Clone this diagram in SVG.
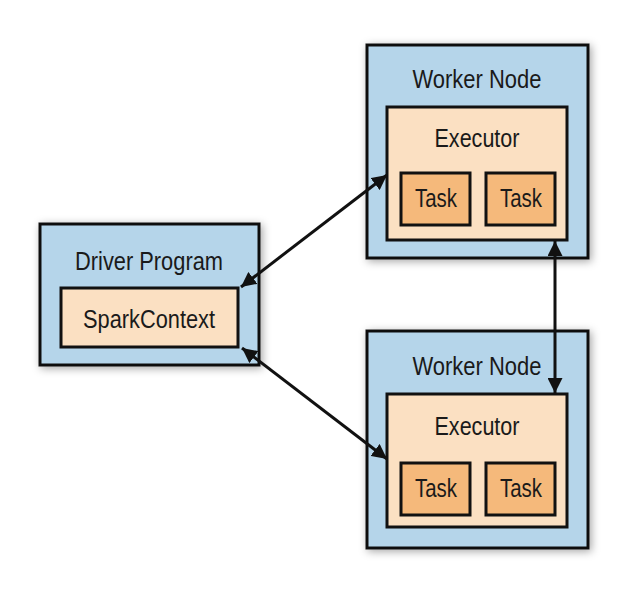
<svg xmlns="http://www.w3.org/2000/svg" width="638" height="600" viewBox="0 0 638 600">
  <style>
    .outer { fill: #b5d5ea; stroke: #111; stroke-width: 3; filter: url(#shadow); }
    .exec { fill: #fbe0c2; stroke: #111; stroke-width: 3; }
    .task { fill: #f5b97b; stroke: #111; stroke-width: 3; }
    .lbl { font-family: "Liberation Sans", Arial, sans-serif; font-size: 25px; fill: #1a1a1a; text-anchor: middle; }
    .conn { stroke: #111; stroke-width: 3; fill: none; marker-start: url(#head); marker-end: url(#head); }
  </style>
  <defs>
    <filter id="shadow" x="-20%" y="-20%" width="140%" height="140%">
      <feDropShadow dx="2" dy="2" stdDeviation="4" flood-color="#000" flood-opacity="0.35"/>
    </filter>
    <marker id="head" viewBox="0 0 10 10" refX="10" refY="5" markerWidth="5" markerHeight="5" orient="auto-start-reverse" markerUnits="strokeWidth">
      <path d="M0,0 L10,5 L0,10 z" fill="#111"/>
    </marker>
  </defs>
  <rect width="638" height="600" fill="#ffffff"/>

  <g id="driver">
    <rect class="outer" x="40" y="224" width="219" height="141"/>
    <text class="lbl" x="149" y="270" textLength="148" lengthAdjust="spacingAndGlyphs">Driver Program</text>
    <rect class="exec" x="61" y="288" width="177" height="59"/>
    <text class="lbl" x="149" y="328" textLength="132" lengthAdjust="spacingAndGlyphs">SparkContext</text>
  </g>

  <g id="worker1">
    <rect class="outer" x="367" y="45" width="221" height="213"/>
    <text class="lbl" x="477" y="88" textLength="129" lengthAdjust="spacingAndGlyphs">Worker Node</text>
    <rect class="exec" x="387" y="107" width="180" height="133"/>
    <text class="lbl" x="477" y="147" textLength="85" lengthAdjust="spacingAndGlyphs">Executor</text>
    <rect class="task" x="401" y="173" width="69" height="52"/>
    <text class="lbl" x="436" y="207" textLength="42" lengthAdjust="spacingAndGlyphs">Task</text>
    <rect class="task" x="486" y="173" width="69" height="52"/>
    <text class="lbl" x="521" y="207" textLength="42" lengthAdjust="spacingAndGlyphs">Task</text>
  </g>

  <g id="worker2">
    <rect class="outer" x="367" y="331" width="221" height="217"/>
    <text class="lbl" x="477" y="375" textLength="129" lengthAdjust="spacingAndGlyphs">Worker Node</text>
    <rect class="exec" x="387" y="394" width="180" height="133"/>
    <text class="lbl" x="477" y="435" textLength="85" lengthAdjust="spacingAndGlyphs">Executor</text>
    <rect class="task" x="401" y="463" width="69" height="52"/>
    <text class="lbl" x="436" y="497" textLength="42" lengthAdjust="spacingAndGlyphs">Task</text>
    <rect class="task" x="486" y="463" width="69" height="52"/>
    <text class="lbl" x="521" y="497" textLength="42" lengthAdjust="spacingAndGlyphs">Task</text>
  </g>

  <g id="connectors">
    <line class="conn" x1="241" y1="287" x2="387" y2="175"/>
    <line class="conn" x1="242" y1="348" x2="387" y2="459"/>
    <line class="conn" x1="555" y1="241" x2="555" y2="393"/>
  </g>
</svg>
